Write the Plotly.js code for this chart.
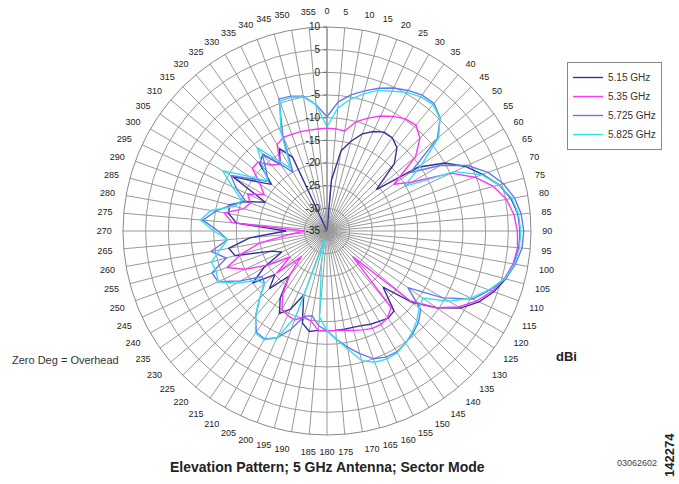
<!DOCTYPE html>
<html>
<head>
<meta charset="utf-8">
<script src="https://cdn.plot.ly/plotly-3.0.1.min.js"></script>
<style>html,body{margin:0;padding:0;background:#fff;}#chart{width:679px;height:484px;}</style>
</head>
<body>
<div id="chart"></div>
<script>
// Elevation angle (degrees, 0 = overhead), every 5 degrees
const angles = [0,5,10,15,20,25,30,35,40,45,50,55,60,65,70,75,80,85,90,95,100,105,110,115,120,125,130,135,140,145,150,155,160,165,170,175,180,185,190,195,200,205,210,215,220,225,230,235,240,245,250,255,260,265,270,275,280,285,290,295,300,305,310,315,320,325,330,335,340,345,350,355];
const angleLabels = angles.map(a => String(a));
const radialTicks = [10,5,0,-5,-10,-15,-20,-25,-30,-35];

// Gain in dBi
const g515 = [-35,-23.7,-17,-14.5,-12.2,-10.8,-9.8,-9.9,-11,-14,-20.8,-10.5,-5,-1.3,1.5,4.3,6.2,7.3,7.6,7.5,6.8,5.8,4.2,2,-1,-5.5,-10.5,-17.5,-12,-11.5,-12,-12.3,-12.8,-13,-13,-13,-13,-13,-12.5,-14,-20,-16,-14,-17,-22,-17,-20,-15,-19,-24,-22,-14,-13,-18,-26,-15,-13,-12.7,-16,-20,-11,-16,-19,-14,-13,-17,-14,-17,-35,-35,-35,-35];
const g535 = [-12.3,-12.4,-12.6,-10,-8.5,-7,-5.8,-4.8,-4.5,-6,-9.5,-17,-13.5,-4.8,-0.3,3,5.2,6.4,7,7.2,6.7,5.5,3.8,1.5,-1.5,-5.5,-11,-27,-13,-11.7,-11.2,-11.3,-11.8,-12.3,-12.8,-13,-13,-13,-14.8,-15.4,-14.1,-14.5,-15.1,-18,-22,-27,-20.5,-25,-20,-15,-11.5,-15.5,-20,-27,-30,-14,-12,-16,-17,-15.7,-19,-17,-13.5,-13.5,-16,-17,-13,-12.2,-12.3,-12.3,-12.4,-12.4];
const g5725 = [-9.8,-6.4,-4.5,-3,-1.5,-0.2,0.8,1.6,1.7,0.3,-3.2,-12.5,-6,-0.8,2.8,5.3,7,8,8.4,8.2,7.2,5.8,3.2,0.5,-5.5,-13.2,-8,-6.5,-5.5,-4.8,-4.2,-4.3,-5,-7,-9,-11,-13,-14,-16,-15.5,-12,-9,-7.5,-7.8,-10.5,-14,-17,-17.5,-13,-8.5,-8,-12,-9,-13,-11,-7.5,-10,-13,-16,-13,-10.5,-15,-18,-16,-12.8,-17,-20,-12,-4,-4.2,-4.8,-7];
const g5825 = [-12,-7.8,-5.5,-3.7,-2,-1,0.3,1.1,1.4,0.2,-2.8,-9.5,-15.4,-4,1.3,4.3,6.4,7.4,7.7,7.6,7,5.6,3,0,-4,-9.2,-8.5,-7,-5.8,-4.8,-4,-3.8,-4.2,-5.4,-8.5,-11,-13,-16,-28,-33,-15,-9,-7.3,-7.5,-10.5,-14,-17,-16,-12,-8.5,-9,-8.6,-11,-13,-10,-7,-9,-14,-15,-12,-8.4,-14,-18,-15,-11,-16,-19,-11,-4.5,-4.5,-5,-7];

const seriesNames = ['5.15 GHz','5.35 GHz','5.725 GHz','5.825 GHz'];
const seriesData = [g515, g535, g5725, g5825];
const seriesColors = ['#333399','#ff33ff','#6677f0','#33e0f0'];

const traces = seriesData.map((vals, i) => ({
  type: 'scatterpolar',
  mode: 'lines',
  name: seriesNames[i],
  r: vals.concat([vals[0]]),
  theta: angles.concat([360]),
  line: {color: seriesColors[i], width: 1.4},
  hoverinfo: 'skip'
}));

const font = 'Liberation Sans, Arial, sans-serif';
const W = 679, H = 484, cx = 327, cy = 231, R = 204;

const layout = {
  width: W, height: H,
  margin: {l:0, r:0, t:0, b:0},
  paper_bgcolor: '#fff',
  font: {family: font, color: '#222', size: 9},
  showlegend: true,
  legend: {
    x: 567/W, y: 1 - 62/H, xanchor: 'left', yanchor: 'top',
    bgcolor: '#fff', bordercolor: '#888', borderwidth: 1,
    font: {family: font, size: 10, color: '#333'},
    itemwidth: 30, tracegroupgap: 2
  },
  polar: {
    domain: {x: [(cx-R)/W, (cx+R)/W], y: [(H-cy-R)/H, (H-cy+R)/H]},
    bgcolor: '#fff',
    angularaxis: {
      direction: 'clockwise', rotation: 90,
      tickmode: 'array', tickvals: angles, ticktext: angleLabels,
      tickfont: {family: font, size: 9, color: '#222'},
      showgrid: true, gridcolor: '#999', gridwidth: 1,
      showline: true, linecolor: '#888', linewidth: 1,
      ticks: 'outside', ticklen: 9, tickcolor: 'rgba(0,0,0,0)'
    },
    radialaxis: {
      range: [-35, 10], angle: 90,
      tickmode: 'array', tickvals: radialTicks, ticktext: radialTicks.map(String),
      tickfont: {family: font, size: 10, color: '#222'},
      showgrid: true, gridcolor: '#999', gridwidth: 1,
      showline: true, linecolor: '#888',
      ticks: 'outside', ticklen: 3, tickcolor: '#666',
      side: 'counterclockwise', tickangle: 90
    }
  },
  annotations: [
    {text: 'Zero Deg = Overhead', x: 10/W, y: 1 - 360/H, xref: 'paper', yref: 'paper', xanchor: 'left', yanchor: 'middle', showarrow: false, font: {family: font, size: 11, color: '#333'}},
    {text: '<b>dBi</b>', x: 566/W, y: 1 - 356/H, xref: 'paper', yref: 'paper', xanchor: 'center', yanchor: 'middle', showarrow: false, font: {family: font, size: 13, color: '#222'}},
    {text: '<b>Elevation Pattern; 5 GHz Antenna; Sector Mode</b>', x: 327/W, y: 1 - 467/H, xref: 'paper', yref: 'paper', xanchor: 'center', yanchor: 'middle', showarrow: false, font: {family: font, size: 14, color: '#222'}},
    {text: '03062602', x: 637/W, y: 1 - 463/H, xref: 'paper', yref: 'paper', xanchor: 'center', yanchor: 'middle', showarrow: false, font: {family: font, size: 9, color: '#444'}},
    {text: '<b>142274</b>', x: 669/W, y: 1 - 455/H, xref: 'paper', yref: 'paper', xanchor: 'center', yanchor: 'middle', showarrow: false, textangle: -90, font: {family: font, size: 13, color: '#222'}}
  ]
};

Plotly.newPlot('chart', traces, layout, {staticPlot: true, displayModeBar: false});
</script>
</body>
</html>
